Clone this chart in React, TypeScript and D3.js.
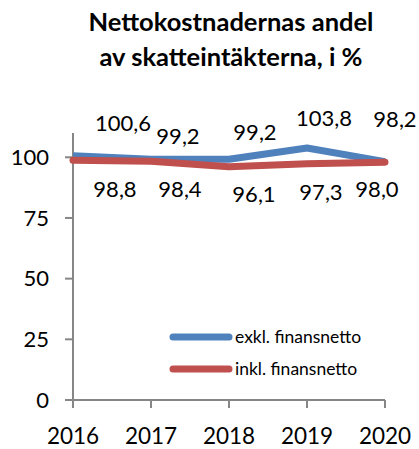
import * as d3 from "d3";
import React from "react";

const years = ["2016", "2017", "2018", "2019", "2020"];
const exklValues = [100.6, 99.2, 99.2, 103.8, 98.2];
const inklValues = [98.8, 98.4, 96.1, 97.3, 98.0];
const yTicks = [0, 25, 50, 75, 100];
const seriesNames = ["exkl. finansnetto", "inkl. finansnetto"];
const titleLines = ["Nettokostnadernas andel", "av skatteintäkterna, i %"];

// label nudges (manual placement in the original)
const exklLabelDx = [50, 27, 26, 17, 10];
const exklLabelDy = [-33, -23, -27, -30, -42];
const inklLabelDx = [42, 29, 25, 14, -8];
const inklLabelDy = [29, 28, 28, 28, 27];

const W = 419;
const H = 449;
const font = "Lato, 'Open Sans', sans-serif";
const blue = "#4f81bd";
const red = "#c0504d";
const axisColor = "#868686";

const fmt = (v: number) => v.toFixed(1).replace(".", ",");

const App = () => {
  const x = d3.scalePoint<string>().domain(years).range([73, 385]);
  const y = d3.scaleLinear().domain([0, 110]).range([400, 133]);

  const line = d3
    .line<number>()
    .x((_, i) => x(years[i]) as number)
    .y((d) => y(d));

  return (
    <svg width={W} height={H} style={{ position: "absolute", left: 0, top: 0 }}>
      <rect width={W} height={H} fill="#fff" />
      {titleLines.map((t, i) => (
        <text
          key={t}
          x={231}
          y={31 + i * 35}
          textAnchor="middle"
          fontFamily={font}
          fontWeight="bold"
          fontSize={25.5}
          fill="#000"
        >
          {t}
        </text>
      ))}

      {/* axes */}
      <line x1={x(years[0])} x2={x(years[0])} y1={y(110)} y2={y(0)} stroke={axisColor} strokeWidth={2} />
      <line x1={x(years[0])} x2={x(years[years.length - 1])} y1={y(0)} y2={y(0)} stroke={axisColor} strokeWidth={2} />
      {yTicks.map((t) => (
        <g key={t}>
          <line x1={65} x2={73} y1={y(t)} y2={y(t)} stroke={axisColor} strokeWidth={2} />
          <text x={49} y={y(t)} dy="0.35em" textAnchor="end" fontFamily={font} fontSize={22} fill="#000">
            {t}
          </text>
        </g>
      ))}
      {years.map((yr) => (
        <g key={yr}>
          <line x1={x(yr)} x2={x(yr)} y1={y(0)} y2={y(0) + 8} stroke={axisColor} strokeWidth={2} />
          <text x={x(yr)} y={436} dy="0.35em" textAnchor="middle" fontFamily={font} fontSize={22.5} fill="#000">
            {yr}
          </text>
        </g>
      ))}

      {/* series */}
      <path d={line(exklValues) || undefined} fill="none" stroke={blue} strokeWidth={7} strokeLinejoin="round" />
      <path d={line(inklValues) || undefined} fill="none" stroke={red} strokeWidth={7} strokeLinejoin="round" strokeLinecap="round" />

      {exklValues.map((v, i) => (
        <text
          key={"e" + i}
          x={(x(years[i]) as number) + exklLabelDx[i]}
          y={y(v) + exklLabelDy[i]}
          dy="0.35em"
          textAnchor="middle"
          fontFamily={font}
          fontSize={22}
          fill="#000"
        >
          {fmt(v)}
        </text>
      ))}
      {inklValues.map((v, i) => (
        <text
          key={"i" + i}
          x={(x(years[i]) as number) + inklLabelDx[i]}
          y={y(v) + inklLabelDy[i]}
          dy="0.35em"
          textAnchor="middle"
          fontFamily={font}
          fontSize={22}
          fill="#000"
        >
          {fmt(v)}
        </text>
      ))}

      {/* legend */}
      {seriesNames.map((n, i) => (
        <g key={n} transform={`translate(173, ${337 + i * 32})`}>
          <line x1={0} x2={56} y1={0} y2={0} stroke={i === 0 ? blue : red} strokeWidth={7} strokeLinecap="round" />
          <text x={62} y={0} dy="0.35em" fontFamily={font} fontSize={17.5} fill="#000">
            {n}
          </text>
        </g>
      ))}
    </svg>
  );
};

export default App;
